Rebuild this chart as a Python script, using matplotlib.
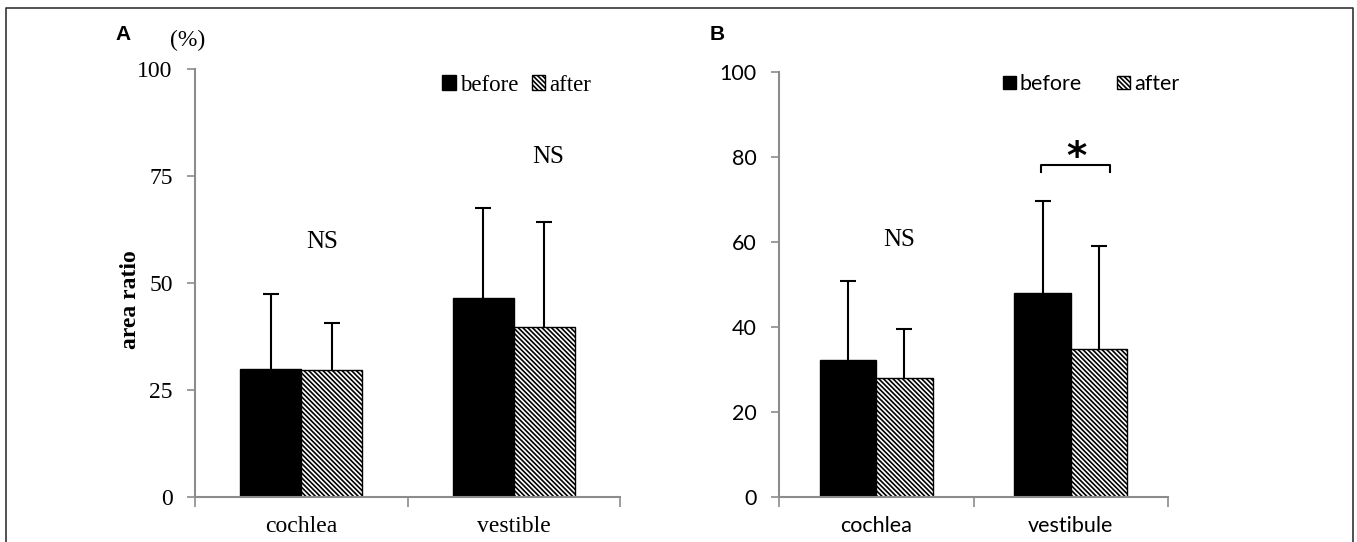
import matplotlib
matplotlib.use("Agg")
import matplotlib.pyplot as plt
import numpy as np
from matplotlib.patches import Patch
from matplotlib.lines import Line2D

# ---- data ----
categories_A = ["cochlea", "vestible"]
before_A = [29.9, 46.4]
after_A = [29.6, 39.8]
before_err_A = [17.6, 21.1]
after_err_A = [11.1, 24.5]
yticks_A = [0, 25, 50, 75, 100]

categories_B = ["cochlea", "vestibule"]
before_B = [32.2, 48.1]
after_B = [28.0, 34.7]
before_err_B = [18.6, 21.6]
after_err_B = [11.4, 24.4]
yticks_B = [0, 20, 40, 60, 80, 100]

W, H = 1357, 542
fig = plt.figure(figsize=(W / 100, H / 100), dpi=100)

SERIF = "Liberation Serif"
SANS = "Lato"
SPINE = "#8c8c8c"
HATCH = "\\" * 7
plt.rcParams["hatch.linewidth"] = 1.2


def px_axes(l, r, t, b):
    return [l / W, (H - b) / H, (r - l) / W, (b - t) / H]


def panel(ax, cats, bef, aft, berr, aerr, yticks, font, fs, width):
    x = np.arange(len(cats))
    bef = np.asarray(bef); aft = np.asarray(aft)
    berr = np.asarray(berr); aerr = np.asarray(aerr)
    ax.bar(x - width / 2, bef, width, color="black", edgecolor="black", lw=1, zorder=2)
    ax.bar(x + width / 2, aft, width, color="white", edgecolor="black", lw=1,
           hatch=HATCH, zorder=2)
    for xs, ys, es in [(x - width / 2, bef, berr), (x + width / 2, aft, aerr)]:
        ax.vlines(xs, ys, ys + es, color="black", lw=1.5, zorder=3)
        ax.plot(xs, ys + es, ls="none", marker="_", ms=11, mew=1.5,
                color="black", zorder=3)
    ax.set_xlim(-0.5, len(cats) - 0.5)
    ax.set_ylim(0, 100)
    for s in ["top", "right"]:
        ax.spines[s].set_visible(False)
    for s in ["left", "bottom"]:
        ax.spines[s].set_color(SPINE)
        ax.spines[s].set_linewidth(1.5)
    ax.set_yticks(yticks)
    ax.set_yticklabels([str(v) for v in yticks], fontfamily=font, fontsize=fs)
    ax.tick_params(axis="y", length=6, width=1.2, color=SPINE, pad=10)
    ax.set_xticks(x)
    ax.set_xticklabels(cats, fontfamily=font, fontsize=fs)
    ax.tick_params(axis="x", which="major", length=0, pad=14)
    ax.set_xticks(np.arange(-0.5, len(cats)), minor=True)
    ax.tick_params(axis="x", which="minor", length=7, width=1.2, color=SPINE)


# ---- Panel A ----
axA = fig.add_axes(px_axes(195, 620, 69, 497))
panel(axA, categories_A, before_A, after_A, before_err_A, after_err_A,
      yticks_A, SERIF, 17, 0.287)
axA.text(0.1, 59.6, "NS", ha="center", va="center", fontfamily=SERIF, fontsize=18)
axA.text(1.16, 79.5, "NS", ha="center", va="center", fontfamily=SERIF, fontsize=18)
axA.legend(handles=[Patch(fc="black", ec="black"),
                    Patch(fc="white", ec="black", hatch=HATCH)],
           labels=["before", "after"], ncol=2, frameon=False,
           loc="center left", bbox_to_anchor=(0.582, 0.962),
           borderpad=0, borderaxespad=0, handlelength=0.6, handleheight=0.6,
           handletextpad=0.15, columnspacing=0.6,
           prop={"family": SERIF, "size": 16.5})

# ---- Panel B ----
axB = fig.add_axes(px_axes(779, 1168, 72.3, 496.7))
panel(axB, categories_B, before_B, after_B, before_err_B, after_err_B,
      yticks_B, SANS, 15.5, 0.29)
axB.text(0.12, 60.5, "NS", ha="center", va="center", fontfamily=SERIF, fontsize=18)
xl, xr, yb, yt = 0.845, 1.2, 76.6, 78.1
axB.plot([xl, xl, xr, xr], [yb, yt, yt, yb], color="black", lw=1.5)
axB.text(1.027, 79.8, "*", ha="center", va="center", fontfamily="DejaVu Sans",
         fontsize=28, fontweight="bold")
axB.legend(handles=[Patch(fc="black", ec="black"),
                    Patch(fc="white", ec="black", hatch=HATCH)],
           labels=["before", "after"], ncol=2, frameon=False,
           loc="center left", bbox_to_anchor=(0.575, 0.972),
           borderpad=0, borderaxespad=0, handlelength=0.6, handleheight=0.6,
           handletextpad=0.2, columnspacing=1.6,
           prop={"family": SANS, "size": 15.5})

# ---- figure texts ----
fig.text(131 / W, 1 - 300 / H, "area ratio", rotation=90, ha="center", va="center",
         fontfamily=SERIF, fontsize=17, fontweight="bold")
fig.text(188 / W, 1 - 40 / H, "(%)", ha="center", va="center",
         fontfamily=SERIF, fontsize=17)
fig.text(123 / W, 1 - 35 / H, "A", ha="center", va="center",
         fontfamily="Liberation Sans", fontsize=15, fontweight="bold")
fig.text(717 / W, 1 - 35 / H, "B", ha="center", va="center",
         fontfamily="Liberation Sans", fontsize=15, fontweight="bold")

# frame (open at bottom)
fig.add_artist(Line2D([6 / W, 6 / W, 1353 / W, 1353 / W],
                      [0, 1 - 8 / H, 1 - 8 / H, 0],
                      transform=fig.transFigure, color="#333333", lw=1.2))

fig.savefig("out.png", dpi=100)
